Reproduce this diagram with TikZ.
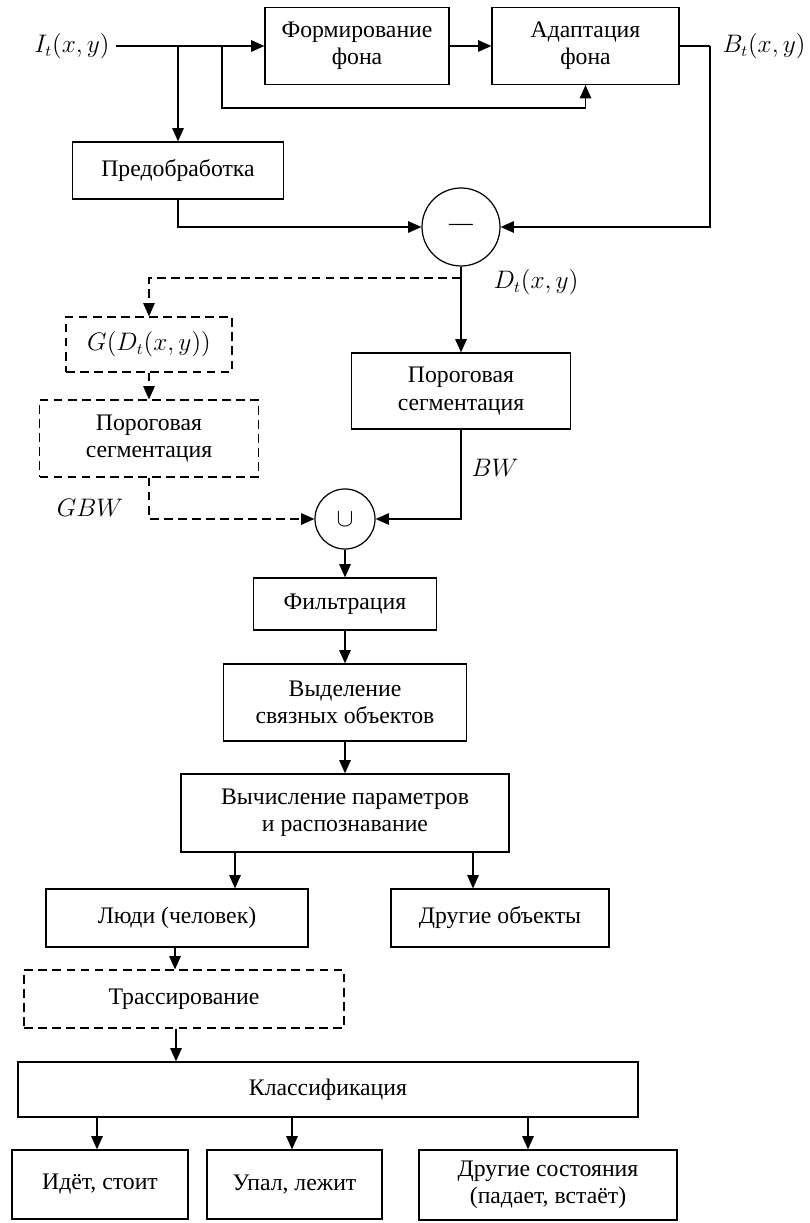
\documentclass[tikz,border=0pt]{standalone}
\usepackage{fontspec}
\setmainfont{Liberation Serif}
\usetikzlibrary{arrows.meta}

\tikzset{
  box/.style={draw, line width=0.7pt, align=center, inner sep=2pt},
  dbox/.style={box, dash pattern=on 5pt off 3pt},
  sumnode/.style={draw, circle, line width=0.7pt, inner sep=0pt},
  arr/.style={-{Triangle[length=7.5pt,width=6.5pt]}, line width=0.7pt},
  darr/.style={arr, dash pattern=on 5pt off 3pt},
}

\begin{document}
\begin{tikzpicture}[font=\fontsize{13.5}{15.5}\selectfont]
% Fix the picture size
\useasboundingbox (0,0) rectangle (16.18,-24.46);

% Top row: background model
\node (it) at (1.44,-0.92) {$I_t(x,y)$};
\node[box, minimum width=3.68cm, minimum height=1.54cm] (form) at (7.14,-0.92) {Формирование\\фона};
\node[box, minimum width=3.74cm, minimum height=1.54cm] (adapt) at (11.71,-0.92) {Адаптация\\фона};
\node (bt) at (15.28,-0.92) {$B_t(x,y)$};
\coordinate (sp1) at (3.56,-0.92);
\coordinate (sp2) at (4.44,-0.92);
\coordinate (bout) at (14.2,-0.92);

% Preprocessing and difference
\node[box, minimum width=4.22cm, minimum height=1.14cm] (pre) at (3.56,-3.41) {Предобработка};
\node[sumnode, minimum size=1.56cm] (minus) at (9.22,-4.54) {---};
\node (dt) at (10.72,-5.64) {$D_t(x,y)$};

% Two segmentation branches
\node[dbox, minimum width=3.32cm, minimum height=1.1cm] (gfun) at (2.98,-6.89) {$G(D_t(x,y))$};
\node[dbox, minimum width=4.38cm, minimum height=1.54cm] (gseg) at (2.98,-8.77) {Пороговая\\сегментация};
\node[box, minimum width=4.38cm, minimum height=1.52cm] (seg) at (9.22,-7.82) {Пороговая\\сегментация};
\node (bw) at (9.9,-9.36) {$BW$};
\node (gbw) at (1.8,-10.16) {$GBW$};
\node[sumnode, minimum size=1.2cm] (union) at (6.9,-10.38) {$\cup$};

% Object processing
\node[box, minimum width=3.66cm, minimum height=1.04cm] (filt) at (6.9,-12.08) {Фильтрация};
\node[box, minimum width=4.86cm, minimum height=1.54cm] (conn) at (6.9,-14.05) {Выделение\\связных объектов};
\node[box, minimum width=6.56cm, minimum height=1.56cm] (calc) at (6.9,-16.26) {Вычисление параметров\\и распознавание};
\node[box, minimum width=5.24cm, minimum height=1.16cm] (people) at (3.54,-18.36) {Люди (человек)};
\node[box, minimum width=4.36cm, minimum height=1.16cm] (other) at (10.0,-18.36) {Другие объекты};
\node[dbox, minimum width=6.4cm, minimum height=1.16cm] (track) at (3.68,-19.98) {Трассирование};
\node[box, minimum width=12.4cm, minimum height=1.1cm] (class) at (6.56,-21.79) {Классификация};
\node[box, minimum width=3.52cm, minimum height=1.38cm] (walk) at (2.0,-23.69) {Идёт, стоит};
\node[box, minimum width=3.5cm, minimum height=1.38cm] (fall) at (5.89,-23.69) {Упал, лежит};
\node[box, minimum width=5.16cm, minimum height=1.4cm] (states) at (10.96,-23.7) {Другие состояния\\(падает, встаёт)};

% Connectors
\draw[arr] (it.east) -- (form.west);
\draw[arr] (form.east) -- (adapt.west);
\draw[arr] (sp1) -- (sp1 |- pre.north);
\draw[arr] (sp2) -- ++(0,-1.24) -| (adapt.south);
\draw[line width=0.7pt] (adapt.east) -- (bout);
\draw[arr] (bout) |- (minus.east);
\draw[arr] (pre.south) |- (minus.west);
\draw[arr] (minus.south) -- (seg.north);
\draw[darr] (minus.south |- 0,-5.56) -| (gfun.north);
\draw[darr] (gfun.south) -- (gseg.north);
\draw[darr] (gseg.south) |- (union.west);
\draw[arr] (seg.south) |- (union.east);
\draw[arr] (union.south) -- (filt.north);
\draw[arr] (filt.south) -- (conn.north);
\draw[arr] (conn.south) -- (calc.north);
\draw[arr] (4.7,0 |- calc.south) -- (4.7,0 |- people.north);
\draw[arr] (9.46,0 |- calc.south) -- (9.46,0 |- other.north);
\draw[arr] (3.5,0 |- people.south) -- (3.5,0 |- track.north);
\draw[arr] (3.52,0 |- track.south) -- (3.52,0 |- class.north);
\draw[arr] (1.94,0 |- class.south) -- (1.94,0 |- walk.north);
\draw[arr] (5.84,0 |- class.south) -- (5.84,0 |- fall.north);
\draw[arr] (10.56,0 |- class.south) -- (10.56,0 |- states.north);
\end{tikzpicture}
\end{document}
